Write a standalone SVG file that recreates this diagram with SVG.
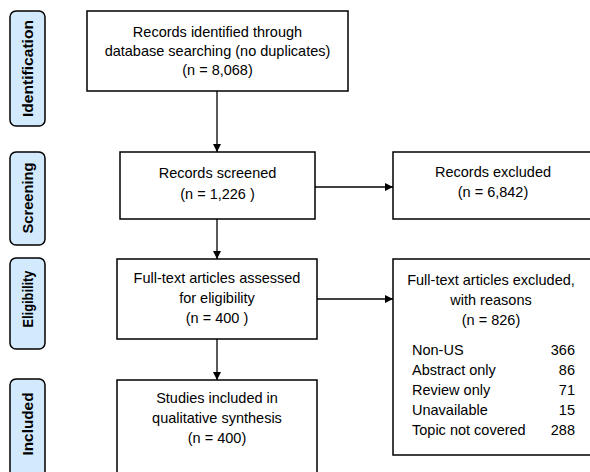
<svg xmlns="http://www.w3.org/2000/svg" width="590" height="472" viewBox="0 0 590 472">
<defs>
<style>
.box{fill:#fff;stroke:#000;stroke-width:1.5}
.stage{fill:#d3eafc;stroke:#000;stroke-width:1.5}
.t{font-family:"Liberation Sans",Arial,sans-serif;font-size:14.5px;fill:#000;text-anchor:middle}
.l{font-family:"Liberation Sans",Arial,sans-serif;font-size:14.5px;fill:#000}
.r{font-family:"Liberation Sans",Arial,sans-serif;font-size:14.5px;fill:#000;text-anchor:end}
.s{font-family:"Liberation Sans",Arial,sans-serif;font-size:14px;font-weight:bold;fill:#000;text-anchor:middle}
.c{stroke:#000;stroke-width:1.3;fill:none}
</style>
<marker id="ah" viewBox="0 0 10 10" refX="10" refY="5" markerWidth="8" markerHeight="8" markerUnits="userSpaceOnUse" orient="auto">
<path d="M0,0 L10,5 L0,10 z" fill="#000"/>
</marker>
</defs>
<rect width="590" height="472" fill="#fff"/>
<g id="stage-identification">
<rect class="stage" x="10" y="11" width="35" height="115" rx="6"/>
<text class="s" transform="translate(33,68.5) rotate(-90)" textLength="97" lengthAdjust="spacingAndGlyphs">Identification</text>
</g>
<g id="stage-screening">
<rect class="stage" x="10" y="152" width="35" height="93" rx="6"/>
<text class="s" transform="translate(33,198) rotate(-90)" textLength="71" lengthAdjust="spacingAndGlyphs">Screening</text>
</g>
<g id="stage-eligibility">
<rect class="stage" x="10" y="258" width="35" height="91" rx="6"/>
<text class="s" transform="translate(33,299) rotate(-90)" textLength="57" lengthAdjust="spacingAndGlyphs">Eligibility</text>
</g>
<g id="stage-included">
<rect class="stage" x="10" y="379" width="35" height="100" rx="6"/>
<text class="s" transform="translate(33,424) rotate(-90)" textLength="63" lengthAdjust="spacingAndGlyphs">Included</text>
</g>
<g id="identified">
<rect class="box" x="87" y="11" width="261" height="80"/>
<text class="t" x="217.5" y="37">Records identified through</text>
<text class="t" x="217.5" y="56">database searching (no duplicates)</text>
<text class="t" x="217.5" y="75">(n = 8,068)</text>
</g>
<g id="screened">
<rect class="box" x="120" y="152" width="195" height="67"/>
<text class="t" x="217.5" y="178">Records screened</text>
<text class="t" x="217.5" y="199">(n = 1,226 )</text>
</g>
<g id="excluded">
<rect class="box" x="393" y="152" width="202" height="67"/>
<text class="t" x="493" y="177">Records excluded</text>
<text class="t" x="493" y="197">(n = 6,842)</text>
</g>
<g id="assessed">
<rect class="box" x="117" y="259" width="200" height="80"/>
<text class="t" x="217" y="283">Full-text articles assessed</text>
<text class="t" x="217" y="303">for eligibility</text>
<text class="t" x="217" y="323">(n = 400 )</text>
</g>
<g id="ft-excluded">
<rect class="box" x="393" y="259" width="202" height="196"/>
<text class="t" x="491" y="285">Full-text articles excluded,</text>
<text class="t" x="491" y="305">with reasons</text>
<text class="t" x="491" y="325">(n = 826)</text>
<text class="l" x="412" y="355">Non-US</text>
<text class="r" x="575" y="355">366</text>
<text class="l" x="412" y="375">Abstract only</text>
<text class="r" x="575" y="375">86</text>
<text class="l" x="412" y="395">Review only</text>
<text class="r" x="575" y="395">71</text>
<text class="l" x="412" y="415">Unavailable</text>
<text class="r" x="575" y="415">15</text>
<text class="l" x="412" y="435">Topic not covered</text>
<text class="r" x="575" y="435">288</text>
</g>
<g id="included">
<rect class="box" x="117" y="380" width="200" height="100"/>
<text class="t" x="217" y="403">Studies included in</text>
<text class="t" x="217" y="423">qualitative synthesis</text>
<text class="t" x="217" y="443">(n = 400)</text>
</g>
<g id="connectors">
<line class="c" x1="217" y1="91" x2="217" y2="152" marker-end="url(#ah)"/>
<line class="c" x1="315" y1="187" x2="393" y2="187" marker-end="url(#ah)"/>
<line class="c" x1="217" y1="219" x2="217" y2="259" marker-end="url(#ah)"/>
<line class="c" x1="317" y1="299" x2="393" y2="299" marker-end="url(#ah)"/>
<line class="c" x1="217" y1="339" x2="217" y2="380" marker-end="url(#ah)"/>
</g>
</svg>
